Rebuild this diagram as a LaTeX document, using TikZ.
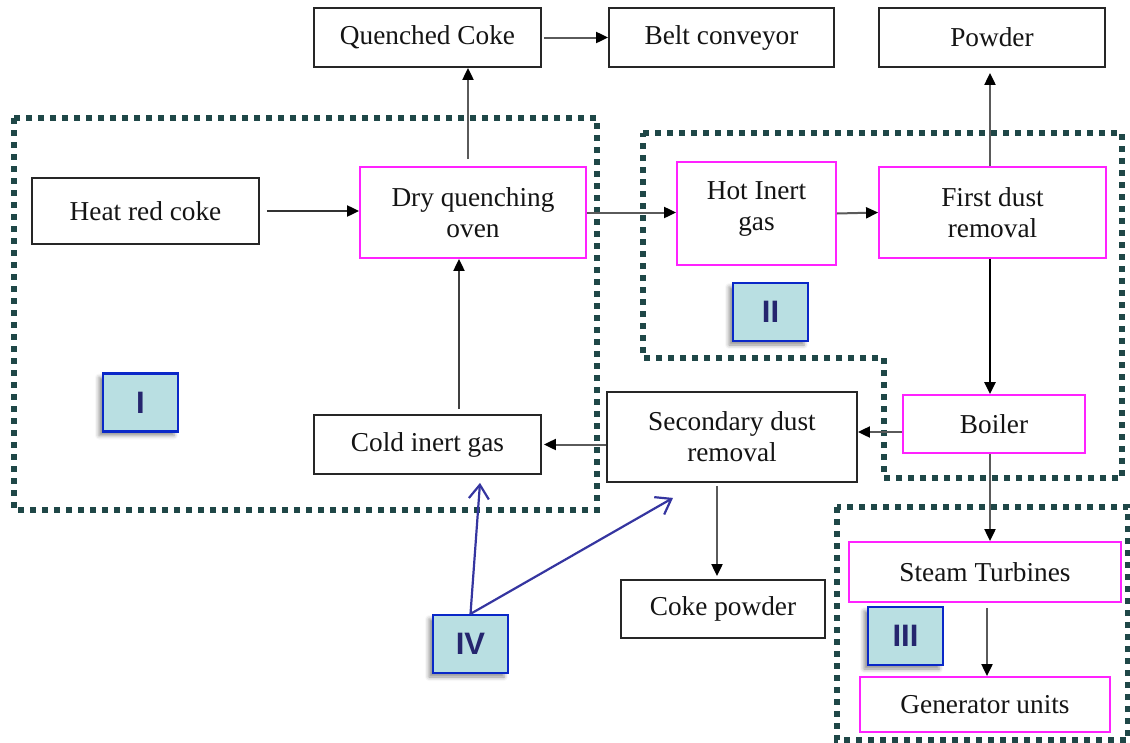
\documentclass[tikz,border=0pt]{standalone}
\usepackage{fontspec}
\setmainfont{Liberation Serif}
\setsansfont{Liberation Sans}
\usetikzlibrary{arrows.meta,shadows.blur,calc}

\definecolor{regioncol}{HTML}{1F4747}
\definecolor{stagecol}{HTML}{FF22FF}
\definecolor{tagfill}{HTML}{B9DFE2}
\definecolor{tagedge}{HTML}{0A28C8}
\definecolor{tagtext}{HTML}{25256E}
\definecolor{linkcol}{HTML}{5A5A5A}
\definecolor{notecol}{HTML}{3535A0}

\tikzset{
  unitbox/.style={draw=black!85, line width=1.8pt, fill=white, inner sep=0pt,
    align=center, text=black!92, font=\fontsize{27.3}{31}\selectfont},
  stagebox/.style={unitbox, draw=stagecol},
  tagbox/.style={draw=tagedge, line width=2.2pt, fill=tagfill, inner sep=0pt,
    minimum width=75pt, minimum height=58pt, text=tagtext,
    font=\sffamily\bfseries\fontsize{31}{35}\selectfont,
    blur shadow={shadow xshift=-4pt, shadow yshift=-4pt,
      shadow blur radius=4pt, shadow opacity=45}},
  region/.style={draw=regioncol, line width=5.5pt, dash pattern=on 6pt off 6pt},
  flow/.style={draw=linkcol, line width=2pt, -{Triangle[length=12pt,width=11pt,color=black]}},
  darkflow/.style={flow, draw=black},
  note/.style={draw=notecol, line width=2.2pt, -{Straight Barb[length=14pt,width=20pt,line width=2.2pt]}}
}

\begin{document}
\begin{tikzpicture}[x=1pt,y=-1pt]
\useasboundingbox (0,0) rectangle (1130,742);

% dotted regions
\draw[region] (14,118) rectangle (597,510);
\draw[region] (643,133) -- (1122,133) -- (1122,478) -- (884,478) -- (884,358) -- (643,358) -- cycle;
\draw[region] (837,507) rectangle (1128,740);

% process units
\node[unitbox, minimum width=227pt, minimum height=59pt] (qc)  at (427.5,37.5) {Quenched Coke};
\node[unitbox, minimum width=225pt, minimum height=59pt] (bc)  at (721.5,37.5) {Belt conveyor};
\node[unitbox, minimum width=226pt, minimum height=59pt] (pow) at (992,37.5) {Powder};
\node[unitbox, minimum width=227pt, minimum height=66pt] (hrc) at (145.5,211) {Heat red coke};
\node[stagebox, minimum width=226pt, minimum height=91pt] (dqo) at (473,212.5) {Dry quenching\\oven};
\node[stagebox, minimum width=159pt, minimum height=103pt, text depth=14pt] (hig) at (756.5,213.5) {Hot Inert\\gas};
\node[stagebox, minimum width=227pt, minimum height=91pt] (fdr) at (992.5,212.5) {First dust\\removal};
\node[stagebox, minimum width=182pt, minimum height=58pt] (boi) at (994,424) {Boiler};
\node[unitbox, minimum width=250pt, minimum height=90pt] (sdr) at (732,437) {Secondary dust\\removal};
\node[unitbox, minimum width=227pt, minimum height=59pt] (cig) at (427.5,444.5) {Cold inert gas};
\node[unitbox, minimum width=204pt, minimum height=58pt] (cp)  at (723,609) {Coke powder};
\node[stagebox, minimum width=272pt, minimum height=60pt] (st)  at (985,572) {Steam Turbines};
\node[stagebox, minimum width=250pt, minimum height=55pt] (gu)  at (985,704.5) {Generator units};

% section tags
\node[tagbox] (tI)   at (140.5,402.5) {I};
\node[tagbox] (tII)  at (770.5,312) {II};
\node[tagbox] (tIII) at (905.5,636) {III};
\node[tagbox] (tIV)  at (470.5,644) {IV};

% material and gas flows
\draw[darkflow, draw=black!80] ([xshift=7pt]hrc.east) -- (hrc.east -| dqo.west);
\draw[flow] ([xshift=-5pt,yshift=7pt]dqo.north) -- ([xshift=-5pt]dqo.north |- qc.south);
\draw[flow] ([xshift=2pt]qc.east) -- (bc.west);
\draw[flow] (dqo.east) -- (dqo.east -| hig.west);
\draw[flow] (hig.east) -- (fdr.west);
\draw[flow, shorten >=5pt] ([xshift=-2.5pt]fdr.north) -- ([xshift=-2.5pt]fdr.north |- pow.south);
\draw[darkflow, line width=2.6pt] ([xshift=-2.5pt]fdr.south) -- ([xshift=-2.5pt]fdr.south |- boi.north);
\draw[flow] ([yshift=-8pt]boi.west) -- ([yshift=-8pt]boi.west -| sdr.east);
\draw[flow, shorten >=2pt] (cig.east -| sdr.west) -- (cig.east);
\draw[darkflow, draw=black!75, shorten <=5pt] ([xshift=31.5pt]cig.north) -- ([xshift=31.5pt]cig.north |- dqo.south);
\draw[flow] ([xshift=-4pt]boi.south) -- ([xshift=-4pt]boi.south |- st.north);
\draw[flow, shorten <=5pt] ([xshift=2pt]st.south) -- ([xshift=2pt]st.south |- gu.north);
\draw[flow, shorten <=3pt, shorten >=3pt] ([xshift=-15pt]sdr.south) -- ([xshift=-15pt]sdr.south |- cp.north);

% pointers from tag IV
\coordinate (cigtip) at ($(cig.south)+(52.5,8)$);
\coordinate (sdrtip) at ($(sdr.south)+(-59,15)$);
\draw[note] (tIV.north) -- (cigtip);
\draw[note] (tIV.north) -- (sdrtip);
\end{tikzpicture}
\end{document}
